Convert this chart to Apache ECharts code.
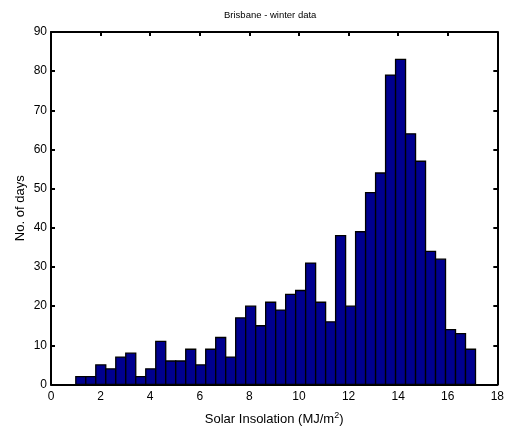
<!DOCTYPE html>
<html>
<head>
<meta charset="utf-8">
<script src="https://cdn.jsdelivr.net/npm/echarts@6/dist/echarts.min.js"></script>
<style>
html,body{margin:0;padding:0;background:#fff;}
#chart{width:507px;height:431px;}
</style>
</head>
<body>
<div id="chart"></div>
<script>
// Histogram data (40 bins)
var binLow = 1.0;
var binHigh = 17.12;
var counts = [2, 2, 5, 4, 7, 8, 2, 4, 11, 6,
              6, 9, 5, 9, 12, 7, 17, 20, 15, 21,
              19, 23, 24, 31, 21, 16, 38, 20, 39, 49,
              54, 79, 83, 64, 57, 34, 32, 14, 13, 9];
var xTicks = [0, 2, 4, 6, 8, 10, 12, 14, 16, 18];
var yTicks = [0, 10, 20, 30, 40, 50, 60, 70, 80, 90];
var titleText = 'Brisbane - winter data';
var xName = 'Solar Insolation (MJ/m{sup|2})';
var yName = 'No. of days';

var binW = (binHigh - binLow) / counts.length;
var seriesData = counts.map(function (c, i) {
  return [binLow + i * binW, binLow + (i + 1) * binW, c];
});

var font = 'Liberation Sans, Arial, sans-serif';
var chart = echarts.init(document.getElementById('chart'), null, {renderer: 'canvas'});
var axisCommon = {
  type: 'value',
  axisLine: {show: true, onZero: false, lineStyle: {color: '#000', width: 2}},
  axisTick: {show: true, inside: true, length: 4, lineStyle: {color: '#000', width: 2}},
  splitLine: {show: false},
  axisLabel: {color: '#000', fontFamily: font, fontSize: 12}
};
chart.setOption({
  animation: false,
  backgroundColor: '#fff',
  title: {
    text: titleText,
    left: 219, top: 5,
    textStyle: {fontFamily: font, fontSize: 9.5, fontWeight: 'normal', color: '#000'}
  },
  grid: {left: 51, right: 7, top: 32, bottom: 46, containLabel: false},
  xAxis: [
    Object.assign({}, axisCommon, {
      position: 'bottom', min: xTicks[0], max: xTicks[xTicks.length - 1], interval: 2,
      axisLabel: Object.assign({}, axisCommon.axisLabel, {margin: 6}),
      name: xName, nameLocation: 'middle', nameGap: 27, nameMoveOverlap: false,
      nameTextStyle: {fontFamily: font, fontSize: 13, color: '#000',
        rich: {sup: {fontSize: 9, verticalAlign: 'top', padding: [0,0,7,0], fontFamily: font, color: '#000'}}}
    }),
    Object.assign({}, axisCommon, {
      position: 'top', min: xTicks[0], max: xTicks[xTicks.length - 1], interval: 2,
      axisLabel: {show: false}
    })
  ],
  yAxis: [
    Object.assign({}, axisCommon, {
      position: 'left', min: yTicks[0], max: yTicks[yTicks.length - 1], interval: 10,
      axisLabel: Object.assign({}, axisCommon.axisLabel, {margin: 4}),
      name: yName, nameLocation: 'middle', nameGap: 24, nameMoveOverlap: false,
      nameTextStyle: {fontFamily: font, fontSize: 13, color: '#000'}
    }),
    Object.assign({}, axisCommon, {
      position: 'right', min: yTicks[0], max: yTicks[yTicks.length - 1], interval: 10,
      axisLabel: {show: false}
    })
  ],
  series: [{
    type: 'custom',
    xAxisIndex: 0, yAxisIndex: 0,
    data: seriesData,
    encode: {x: [0, 1], y: 2},
    renderItem: function (params, api) {
      var p0 = api.coord([api.value(0), 0]);
      var p1 = api.coord([api.value(1), api.value(2)]);
      return {
        type: 'rect',
        shape: {x: p0[0], y: p1[1], width: p1[0] - p0[0], height: p0[1] - p1[1]},
        style: {fill: '#00008F', stroke: '#000', lineWidth: 1.3}
      };
    }
  }]
});
</script>
</body>
</html>
